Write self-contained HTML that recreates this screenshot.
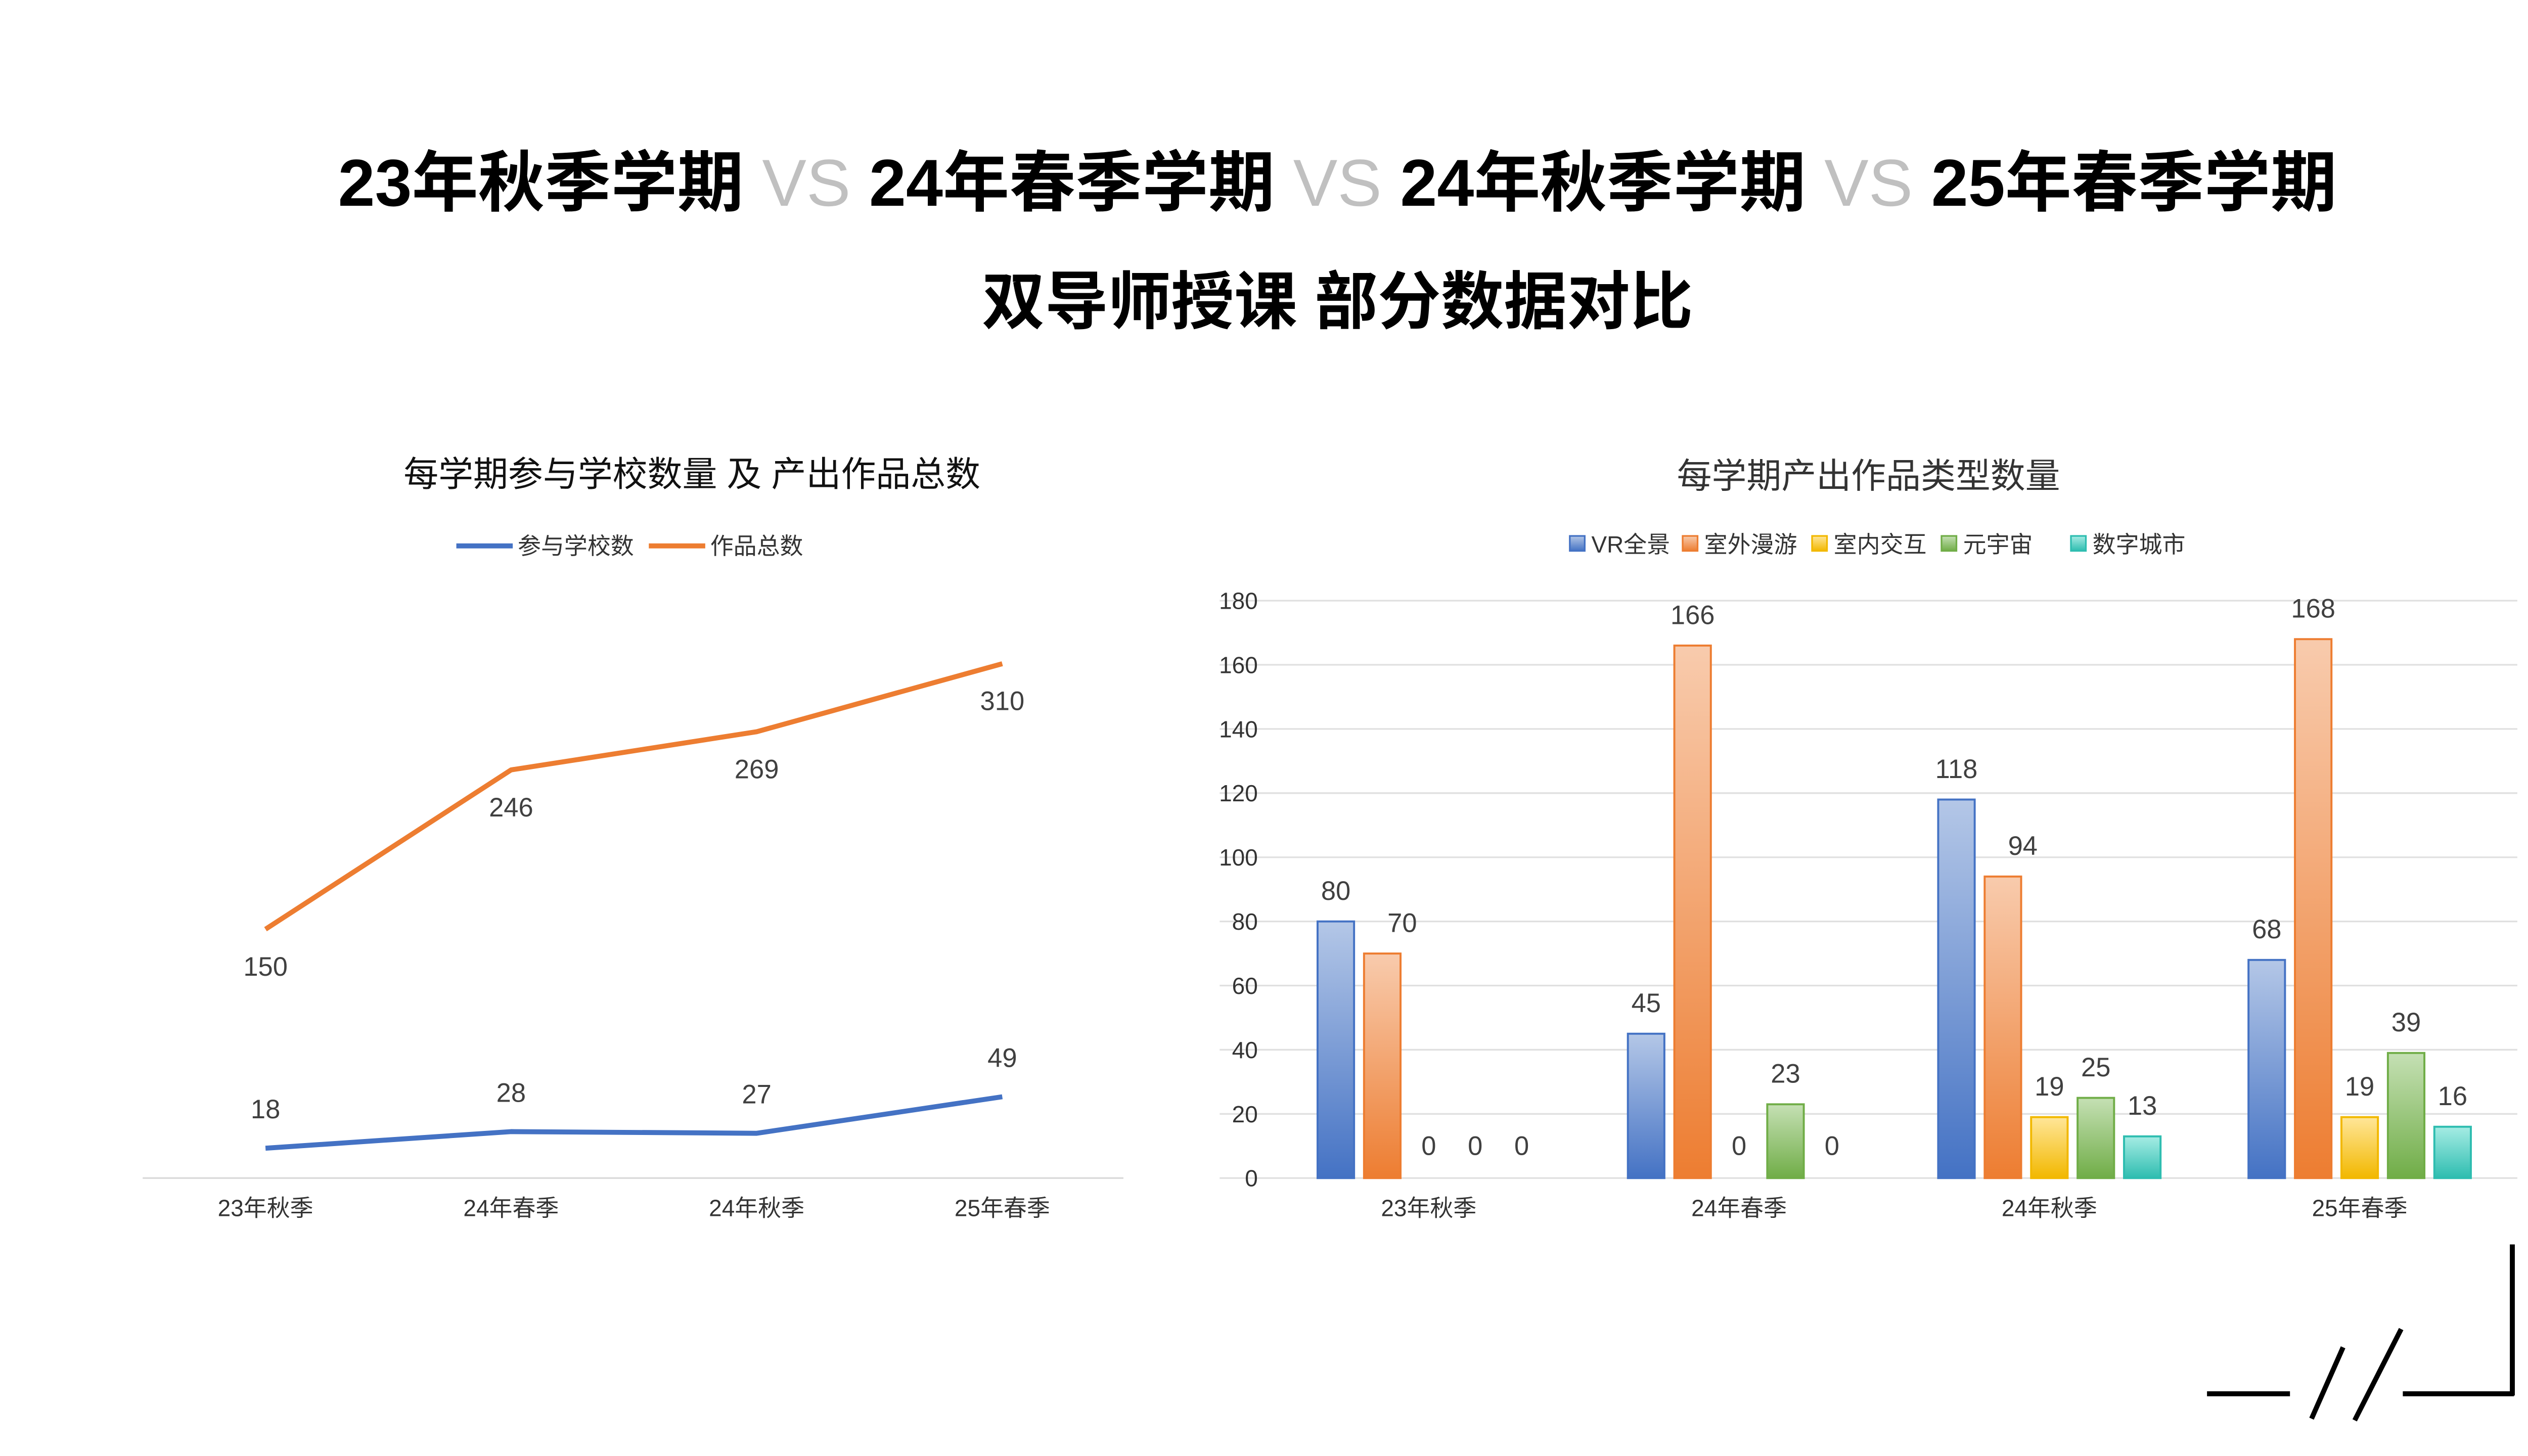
<!DOCTYPE html>
<html><head><meta charset="utf-8"><style>
html,body{margin:0;padding:0;background:#fff}
svg{display:block}
text{font-family:"Liberation Sans","Noto Sans CJK SC",sans-serif}
</style></head><body>
<svg id="root" width="5120" height="2880" viewBox="0 0 1560 877.5" xmlns="http://www.w3.org/2000/svg">
<defs>
<linearGradient id="gB" x1="0" y1="0" x2="0" y2="1"><stop offset="0" stop-color="#b4c7e7"/><stop offset="1" stop-color="#4472c4"/></linearGradient>
<linearGradient id="gO" x1="0" y1="0" x2="0" y2="1"><stop offset="0" stop-color="#f8cbad"/><stop offset="1" stop-color="#ed7d31"/></linearGradient>
<linearGradient id="gY" x1="0" y1="0" x2="0" y2="1"><stop offset="0" stop-color="#ffe699"/><stop offset="1" stop-color="#f2b800"/></linearGradient>
<linearGradient id="gG" x1="0" y1="0" x2="0" y2="1"><stop offset="0" stop-color="#c5e0b4"/><stop offset="1" stop-color="#70ad47"/></linearGradient>
<linearGradient id="gT" x1="0" y1="0" x2="0" y2="1"><stop offset="0" stop-color="#a6ece4"/><stop offset="1" stop-color="#2ebdb0"/></linearGradient>
</defs>
<text x="806" y="124" text-anchor="middle" font-size="40" font-weight="bold" fill="#000">23年秋季学期 <tspan fill="#c0c0c0" font-weight="normal">VS</tspan> 24年春季学期 <tspan fill="#c0c0c0" font-weight="normal">VS</tspan> 24年秋季学期 <tspan fill="#c0c0c0" font-weight="normal">VS</tspan> 25年春季学期</text>
<text x="806" y="195" text-anchor="middle" font-size="38" font-weight="bold" fill="#000">双导师授课 部分数据对比</text>

<g id="lineChart">
<text x="417" y="293" text-anchor="middle" font-size="21" fill="#111">每学期参与学校数量 及 产出作品总数</text>
<g>
<line x1="275" y1="329" x2="309" y2="329" stroke="#4472c4" stroke-width="3"/>
<text x="312" y="334" font-size="14" fill="#333">参与学校数</text>
<line x1="391" y1="329" x2="425" y2="329" stroke="#ed7d31" stroke-width="3"/>
<text x="428" y="334" font-size="14" fill="#333">作品总数</text>
</g>
<line x1="86" y1="710" x2="677" y2="710" stroke="#d9d9d9" stroke-width="1"/>
</g>

<g id="barChart">
<text x="1126" y="294" text-anchor="middle" font-size="21" fill="#333">每学期产出作品类型数量</text>
</g>

<g stroke="#000" stroke-width="3" fill="none">
<line x1="1330" y1="840" x2="1380" y2="840"/>
<line x1="1393" y1="855" x2="1412" y2="812"/>
<line x1="1419" y1="856" x2="1447" y2="801"/>
<line x1="1448" y1="840" x2="1515" y2="840"/>
<line x1="1514" y1="750" x2="1514" y2="841"/>
</g>
</svg>
<script>
const NS="http://www.w3.org/2000/svg";
const lineCategories=["23年秋季","24年春季","24年秋季","25年春季"];
const schoolCounts=[18,28,27,49];
const workTotals=[150,246,269,310];
const barCategories=["23年秋季","24年春季","24年秋季","25年春季"];
const seriesNames=["VR全景","室外漫游","室内交互","元宇宙","数字城市"];
const vrValues=[80,45,118,68];
const outdoorValues=[70,166,94,168];
const indoorValues=[0,0,19,19];
const metaValues=[0,23,25,39];
const cityValues=[0,0,13,16];
const yTicks=[0,20,40,60,80,100,120,140,160,180];

function mk(tag,attrs,parent){const e=document.createElementNS(NS,tag);for(const k in attrs)e.setAttribute(k,attrs[k]);parent.appendChild(e);return e;}

// line chart
const lc=document.getElementById('lineChart');
const lx=i=>160+i*148;
const ly=v=>710-v;
lineCategories.forEach((c,i)=>{
  const t=mk('text',{x:lx(i),y:733,'text-anchor':'middle','font-size':14,fill:'#333'},lc);
  t.textContent=c;
  
  
});
function drawLine(vals,color,name,labelOff){
  const p=mk('polyline',{points:vals.map((v,i)=>lx(i)+','+ly(v)).join(' '),fill:'none',stroke:color,'stroke-width':3,'stroke-linejoin':'round'},lc);
  
  
  vals.forEach((v,i)=>{
    const t=mk('text',{x:lx(i),y:ly(v)+labelOff[i],'text-anchor':'middle','font-size':16,fill:'#404040'},lc);
    t.textContent=v;
    
    
  });
}
drawLine(workTotals,'#ed7d31','works-line',[28,28,28,28]);
drawLine(schoolCounts,'#4472c4','schools-line',[-18,-18,-18,-18]);

// bar chart
const bc=document.getElementById('barChart');
const by=v=>710-v*(348/180);
const gx=i=>861+i*187;
yTicks.forEach(v=>{
  const l=mk('line',{x1:735,x2:1517,y1:by(v),y2:by(v),stroke:'#e0e0e0','stroke-width':1},bc);
  
  
  const t=mk('text',{x:758,y:by(v)+5,'text-anchor':'end','font-size':14,fill:'#333'},bc);
  t.textContent=v;
  
  
});
barCategories.forEach((c,i)=>{
  const t=mk('text',{x:gx(i),y:733,'text-anchor':'middle','font-size':14,fill:'#333'},bc);
  t.textContent=c;
  
  
});
const series=[vrValues,outdoorValues,indoorValues,metaValues,cityValues];
const fills=['url(#gB)','url(#gO)','url(#gY)','url(#gG)','url(#gT)'];
const strokes=['#4472c4','#ed7d31','#f2b800','#70ad47','#2ebdb0'];
series.forEach((vals,s)=>{
  vals.forEach((v,i)=>{
    const cx=gx(i)+(s-2)*28;
    if(v>0){
      const r=mk('rect',{x:cx-11,y:by(v),width:22,height:710-by(v),fill:fills[s],stroke:strokes[s],'stroke-width':1.2},bc);
      
      
    }
    const t=mk('text',{x:cx,y:by(v)-13,'text-anchor':'middle','font-size':16,fill:'#404040'},bc);
    if(v===0)t.setAttribute('y',696);
    if(s>0&&v>0&&series[s-1][i]>v&&s<2){t.setAttribute('x',cx+12);}
    t.textContent=v;
    
    
  });
});
// legend
let lxp=946;
seriesNames.forEach((n,s)=>{
  const g=mk('g',{},bc);
  
  
  mk('rect',{x:lxp,y:323,width:9,height:9,fill:fills[s],stroke:strokes[s],'stroke-width':1},g);
  const t=mk('text',{x:lxp+13,y:333,'font-size':14,fill:'#333'},g);
  t.textContent=n;
  lxp+= n.length===4 && n[0]==='V' ? 68 : 78;
});
</script>
</body></html>
